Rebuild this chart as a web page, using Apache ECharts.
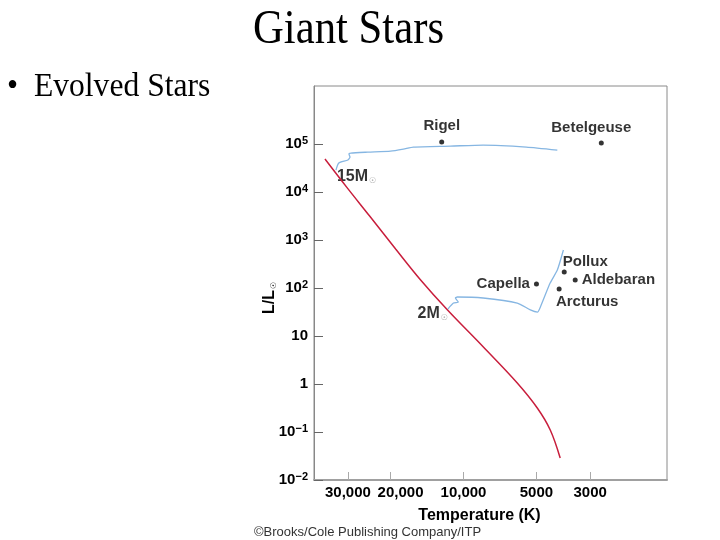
<!DOCTYPE html>
<html>
<head>
<meta charset="utf-8">
<script src="https://cdn.jsdelivr.net/npm/echarts@6/dist/echarts.min.js"></script>
<style>
  html, body { margin: 0; padding: 0; background: #fff; }
  #main { width: 720px; height: 540px; }
</style>
</head>
<body>
<div id="main"></div>
<script>
// main sequence (red)
var msTemps = [37300, 30300, 24400, 19060, 15030, 11640, 8280, 6000, 4960, 4385, 3990];
var msLums = [48700, 12500, 3160, 650, 147, 34.8, 5.9, 1.05, 0.316, 0.11, 0.0287];

// 15 solar mass track (blue)
var t15Temps = [33600, 32700, 30000, 29400, 29700, 29200, 24800, 20000, 17700, 16100, 11300, 8300, 5500, 4100];
var t15Lums = [28700, 40200, 46500, 53600, 62000, 65000, 68000, 71400, 78700, 86700, 90800, 95300, 86700, 75000];

// 2 solar mass track (blue)
var t2Temps = [11600, 11000, 10500, 10800, 10600, 8300, 6000, 5300, 4950, 4820, 4390, 4100, 3870];
var t2Lums = [36.5, 48.7, 51, 62, 65, 62, 48.7, 35, 31.6, 40, 127, 237, 620];

// named stars
var starNames = ['Rigel', 'Betelgeuse', 'Capella', 'Pollux', 'Aldebaran', 'Arcturus'];
var starTemps = [12300, 2700, 5000, 3840, 3460, 4030];
var starLums = [110000, 105000, 121, 215, 147, 95];

// axis ticks
var tempTicks = [30000, 20000, 10000, 5000, 3000];
var lumExps = [-2, -1, 0, 1, 2, 3, 4, 5];
var trackNames = ['15M', '2M'];

var lg = Math.log10;
function pts(ts, ls) {
  return ts.map(function (t, i) { return [lg(t), lg(ls[i])]; });
}

var labelPlace = {
  Rigel: { position: 'top', distance: 6 },
  Betelgeuse: { position: 'top', distance: 5, offset: [-10, 0] },
  Capella: { position: 'left', distance: 4 },
  Pollux: { position: 'top', distance: 0, offset: [21, 0] },
  Aldebaran: { position: 'right', distance: 4 },
  Arcturus: { position: 'bottom', distance: 3, offset: [28, 0] }
};

var font = 'Liberation Sans';
var sunRich = { sun: { fontSize: 8, color: '#888', padding: [8, 0, 0, 1], fontFamily: 'DejaVu Sans' } };

function expLabel(e) {
  if (e === 0) return '1';
  if (e === 1) return '10';
  return '10{sup|' + String(e).replace('-', '\u2212') + '}';
}

var chartDom = document.getElementById('main');
var myChart = echarts.init(chartDom);
var option = {
  animation: false,
  backgroundColor: '#fff',
  graphic: [
    { type: 'text', left: 253, top: 6, scaleX: 0.89,
      style: { text: 'Giant Stars', font: '48px "Liberation Serif"', fill: '#000' } },
    { type: 'text', left: 7, top: 70,
      style: { text: '\u2022  Evolved Stars', font: '34px "Liberation Serif"', fill: '#000' }, scaleX: 0.93 },
    { type: 'text', x: 270, y: 298, rotation: Math.PI / 2,
      style: { text: 'L/L{sun|\u2609}', font: 'bold 16px "Liberation Sans"', fill: '#000',
        align: 'center', verticalAlign: 'middle', rich: sunRich } },
    { type: 'text', left: 254, top: 526,
      style: { text: '\u00A9Brooks/Cole Publishing Company/ITP', font: '13px "Liberation Sans"', fill: '#333' } }
  ],
  grid: { left: 314, right: 53, top: 86, bottom: 60, show: true, borderColor: '#8a8a8a', borderWidth: 1, outerBoundsMode: 'none' },
  xAxis: {
    type: 'value', inverse: true, min: lg(1446), max: lg(41400),
    name: 'Temperature (K)', nameLocation: 'middle', nameGap: 28,
    nameTextStyle: { fontFamily: font, fontWeight: 'bold', fontSize: 16, color: '#000', padding: [0, 22, 0, 0] },
    axisLine: { onZero: false, lineStyle: { color: '#a0a0a0', width: 2 } },
    axisTick: { inside: true, length: 8, customValues: tempTicks.map(lg), lineStyle: { color: '#aaa' } },
    axisLabel: {
      customValues: tempTicks.map(lg), margin: 5, hideOverlap: false,
      fontFamily: font, fontWeight: 'bold', fontSize: 15, color: '#000',
      formatter: function (v) {
        var t = Math.round(Math.pow(10, v));
        var s = t >= 10000 ? t.toLocaleString('en') : String(t);
        // the 20,000 label sits a little right of its tick in the original
        return t === 20000 ? '{nudge|' + s + '}' : s;
      },
      rich: { nudge: { fontFamily: font, fontWeight: 'bold', fontSize: 15, color: '#000', padding: [0, 0, 0, 20] } }
    },
    splitLine: { show: false }
  },
  yAxis: {
    type: 'value', min: -2, max: 6.21,
    axisLine: { onZero: false, lineStyle: { color: '#888' } },
    axisTick: { inside: true, length: 9, customValues: lumExps, lineStyle: { color: '#666' } },
    axisLabel: {
      customValues: lumExps, margin: 6,
      fontFamily: font, fontWeight: 'bold', fontSize: 15, color: '#000', lineHeight: 18,
      formatter: function (v) { return expLabel(Math.round(v)); },
      rich: { sup: { fontSize: 11, fontWeight: 'bold', fontFamily: font, color: '#000', verticalAlign: 'top', lineHeight: 11 } }
    },
    splitLine: { show: false }
  },
  series: [
    {
      name: 'main sequence', type: 'line', data: pts(msTemps, msLums),
      showSymbol: false, smooth: 0.35,
      lineStyle: { color: '#c81e3c', width: 1.5 }
    },
    {
      name: '15M', type: 'line', data: pts(t15Temps, t15Lums),
      showSymbol: false, smooth: 0.2,
      lineStyle: { color: '#86b6e2', width: 1.3 }
    },
    {
      name: '2M', type: 'line', data: pts(t2Temps, t2Lums),
      showSymbol: false, smooth: 0.2,
      lineStyle: { color: '#86b6e2', width: 1.3 }
    },
    {
      name: 'tracks', type: 'scatter', symbolSize: 0, silent: true,
      data: [
        { name: trackNames[0], value: [lg(t15Temps[0]), lg(t15Lums[0])],
          label: { position: 'right', distance: 1, offset: [0, 7] } },
        { name: trackNames[1], value: [lg(t2Temps[0]), lg(t2Lums[0])],
          label: { position: 'left', distance: 0, offset: [0, 5] } }
      ],
      label: {
        show: true, fontFamily: font, fontWeight: 'bold', fontSize: 16, color: '#000',
        formatter: function (p) { return p.name + '{sun|\u2609}'; }, rich: sunRich
      }
    },
    {
      name: 'stars', type: 'scatter', symbolSize: 5,
      itemStyle: { color: '#000' },
      data: starNames.map(function (n, i) {
        return { name: n, value: [lg(starTemps[i]), lg(starLums[i])], label: labelPlace[n] };
      }),
      label: {
        show: true, fontFamily: font, fontWeight: 'bold', fontSize: 15, color: '#000',
        formatter: function (p) { return p.name; }
      }
    }
  ]
};
option && myChart.setOption(option);
</script>
</body>
</html>
